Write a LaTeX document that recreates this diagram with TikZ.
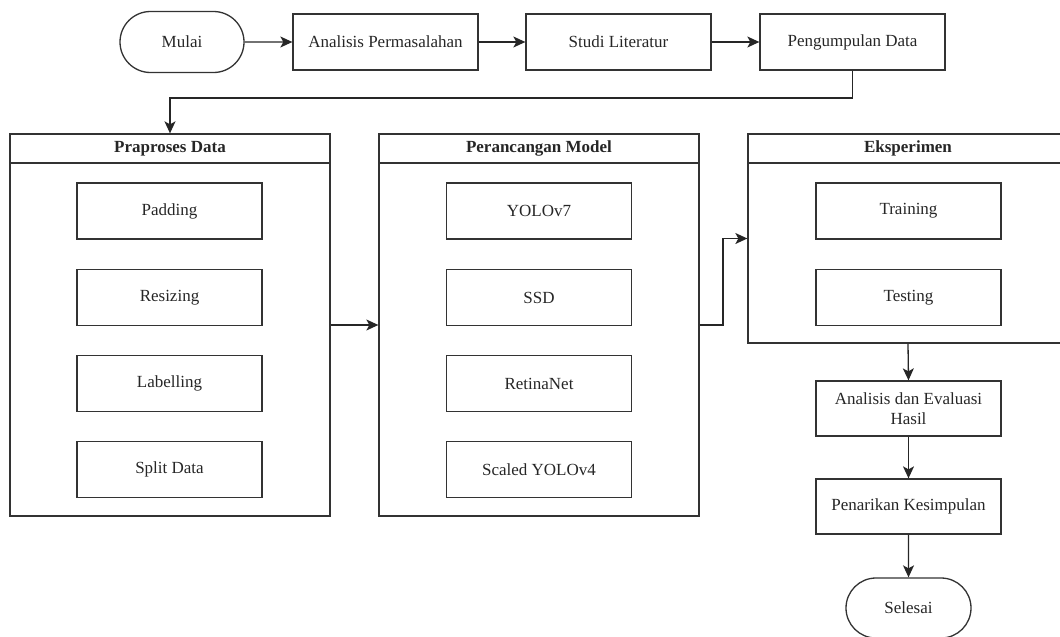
\documentclass[tikz,border=0pt]{standalone}
\usepackage{fontspec}
\setmainfont{Liberation Serif}
\usetikzlibrary{arrows.meta,shapes.misc}
\begin{document}
\begin{tikzpicture}[x=1pt,y=-1pt,
  every node/.style={font=\fontsize{17}{20}\selectfont, text=black!85},
  ln/.style={draw=black!80, line width=1.3pt},
  proc/.style={ln, rectangle, minimum width=185pt, minimum height=56pt, inner sep=0pt, align=center},
  term/.style={ln, rounded rectangle, minimum width=124pt, minimum height=61pt, inner sep=0pt},
  cont/.style={ln, rectangle, minimum width=320pt, inner sep=0pt},
  ttl/.style={font=\bfseries\fontsize{17}{20}\selectfont},
  arr/.style={draw=black!85, line width=1.3pt, -{Stealth[length=12pt,width=11pt,inset=3pt]}},
  con/.style={draw=black!85, line width=1.3pt}
]
\useasboundingbox (0,0) rectangle (1060,637);
% top row
\node[term] (mulai) at (182,42) {Mulai};
\node[proc] (anal) at (385.5,42) {Analisis Permasalahan};
\node[proc] (studi) at (618.5,42) {Studi Literatur};
\node[proc] (peng) at (852.5,42) {Pengumpulan Data};
% containers
\node[cont, minimum height=382pt] (prap) at (170,325) {};
\node[cont, minimum height=382pt] (perc) at (539,325) {};
\begin{scope}
\clip (0,0) rectangle (1060,637);
\node[cont, minimum height=209pt] (eks) at (908,238.5) {};
\draw[ln] (748,163) -- (1070,163);
\end{scope}
\draw[ln] (prap.west |- 0,163) -- (prap.east |- 0,163);
\draw[ln] (perc.west |- 0,163) -- (perc.east |- 0,163);
\node[ttl] (tprap) at (170,148.5) {Praproses Data};
\node[ttl] (tperc) at (539,148.5) {Perancangan Model};
\node[ttl] (teks) at (908,148.5) {Eksperimen};
% inner boxes
\node[proc] (pad) at (169.5,211) {Padding};
\node[proc] (res) at (169.5,297.5) {Resizing};
\node[proc] (lab) at (169.5,383.5) {Labelling};
\node[proc] (spl) at (169.5,469.5) {Split Data};
\node[proc] (yolo7) at (539,211) {YOLOv7};
\node[proc] (ssd) at (539,297.5) {SSD};
\node[proc] (ret) at (539,383.5) {RetinaNet};
\node[proc] (syolo) at (539,469.5) {Scaled YOLOv4};
\node[proc] (train) at (908.5,211) {Training};
\node[proc] (test) at (908.5,297.5) {Testing};
% bottom right
\node[proc, minimum height=55pt] (eval) at (908.5,408.5) {Analisis dan Evaluasi\\Hasil};
\node[proc, minimum height=55pt] (kes) at (908.5,506.5) {Penarikan Kesimpulan};
\node[term, minimum width=125pt, minimum height=60pt] (sel) at (908.5,608) {Selesai};
% connectors
\coordinate (r1) at (170,98);
\coordinate (r2) at (723,325);
\draw[arr] (mulai) -- (anal);
\draw[arr] (anal) -- (studi);
\draw[arr] (studi) -- (peng);
\draw[arr] (peng.south) |- (r1) -- (prap.north);
\draw[arr] (prap.east) -- (perc.west);
\draw[arr] (perc.east) -- (r2) |- (eks.west);
\draw[arr] (eks.south) -- (eval.north);
\draw[arr] (eval) -- (kes);
\draw[arr] (kes) -- (sel);
\end{tikzpicture}
\end{document}
